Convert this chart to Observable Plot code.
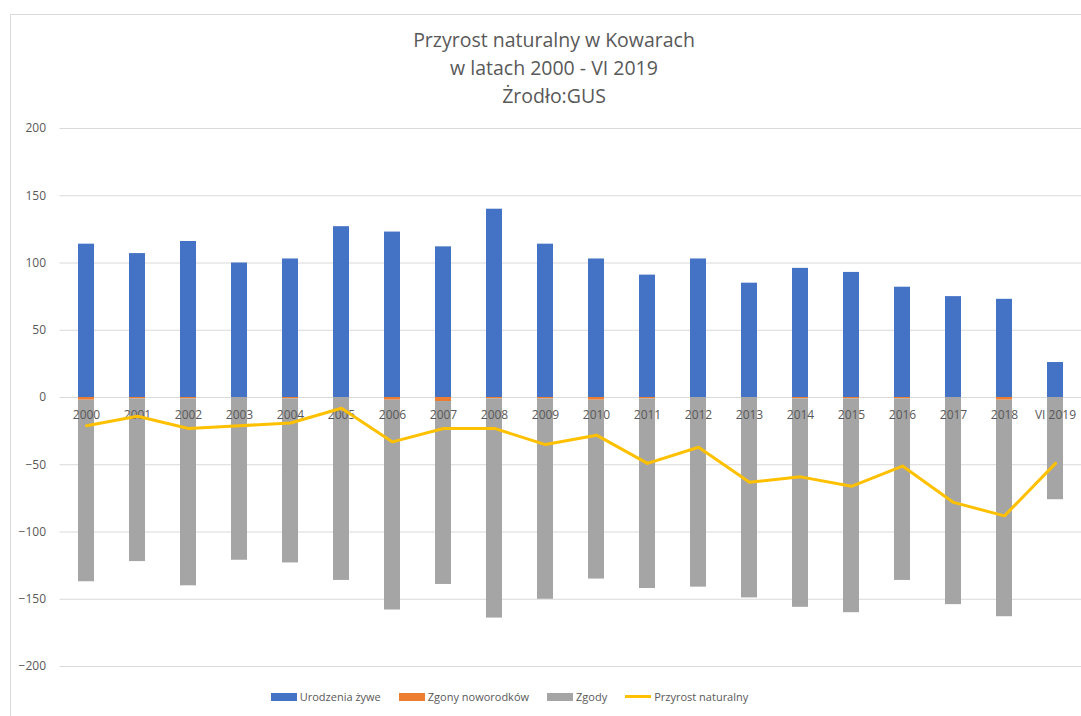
<!DOCTYPE html>
<html><head><meta charset="utf-8">
<script src="https://cdn.jsdelivr.net/npm/d3@7"></script>
<script src="https://cdn.jsdelivr.net/npm/@observablehq/plot@0.6"></script>
<style>
body{margin:0;background:#fff;font-family:"Open Sans",sans-serif;}
#wrap{position:relative;width:1081px;height:716px;overflow:hidden;background:#fff;}
#frame{position:absolute;left:10px;top:14px;width:1200px;height:800px;border-left:1px solid #d9d9d9;border-top:1px solid #d9d9d9;}
#title{position:absolute;left:0;top:26px;width:1108px;text-align:center;font-size:19.5px;line-height:28px;color:#595959;}
#chart{position:absolute;left:0;top:110px;}
#legend{position:absolute;top:689px;left:0;width:1019px;display:flex;justify-content:center;align-items:center;gap:18px;font-size:11px;color:#595959;}
.item{display:flex;align-items:center;gap:3px;}
.sw{width:26px;height:8px;display:inline-block;}
.ln{width:26px;height:3px;display:inline-block;}
</style>
</head><body>
<div id="wrap">
<div id="frame"></div>
<div id="title">Przyrost naturalny w Kowarach<br>w latach 2000 - VI 2019<br>Żrodło:GUS</div>
<div id="chart"></div>
<div id="legend"></div>
</div>
<script>
const years = ["2000","2001","2002","2003","2004","2005","2006","2007","2008","2009","2010","2011","2012","2013","2014","2015","2016","2017","2018","VI 2019"];
const urodzenia = [114,107,116,100,103,127,123,112,140,114,103,91,103,85,96,93,82,75,73,26];
const zgonyNoworodkow = [2,1,1,0,1,0,2,3,1,1,2,1,0,0,1,1,1,0,2,0];
const zgody = [135,121,139,121,122,136,156,136,163,149,133,141,141,149,155,159,135,154,161,76];
const przyrost = [-21,-14,-23,-21,-19,-8,-33,-23,-23,-35,-28,-49,-37,-63,-59,-66,-51,-78,-88,-49];
const seriesNames = ["Urodzenia żywe","Zgony noworodków","Zgody"];
const lineName = "Przyrost naturalny";
const colors = ["#4472c4","#ed7d31","#a5a5a5"];
const lineColor = "#ffc000";
const yTicks = [-200,-150,-100,-50,0,50,100,150,200];

const table = years.flatMap((y,i)=>[
  {year:y, series:seriesNames[0], value:urodzenia[i]},
  {year:y, series:seriesNames[1], value:-zgonyNoworodkow[i]},
  {year:y, series:seriesNames[2], value:-zgody[i]}
]);
const lineData = years.map((y,i)=>({year:y, value:przyrost[i]}));

const chart = Plot.plot({
  width:1081, height:566,
  marginTop:18, marginBottom:10, marginLeft:59.5, marginRight:0,
  style:{fontFamily:"'Open Sans', sans-serif", fontSize:"12px", color:"#595959", background:"transparent"},
  x:{domain:years, paddingInner:0.69, paddingOuter:0.345, axis:null},
  y:{domain:[-200,200], axis:null},
  color:{domain:seriesNames, range:colors},
  marks:[
    Plot.ruleY(yTicks, {stroke:"#d9d9d9", strokeWidth:1}),
    Plot.axisY({ticks:yTicks, tickSize:0, tickPadding:14, fontSize:12, label:null}),
    Plot.barY(table, {x:"year", y:"value", fill:"series", order:seriesNames}),
    Plot.text(years, {x:d=>d, y:d=>0, dy:18, text:d=>d, fontSize:12, fill:"#595959"}),
    Plot.lineY(lineData, {x:"year", y:"value", stroke:lineColor, strokeWidth:3})
  ]
});
document.getElementById("chart").appendChild(chart);

const leg = document.getElementById("legend");
seriesNames.forEach((s,i)=>{
  const it = document.createElement("div"); it.className="item";
  it.innerHTML = `<span class="sw" style="background:${colors[i]}"></span><span>${s}</span>`;
  leg.appendChild(it);
});
const it = document.createElement("div"); it.className="item";
it.innerHTML = `<span class="ln" style="background:${lineColor}"></span><span>${lineName}</span>`;
leg.appendChild(it);
</script>
</body></html>
